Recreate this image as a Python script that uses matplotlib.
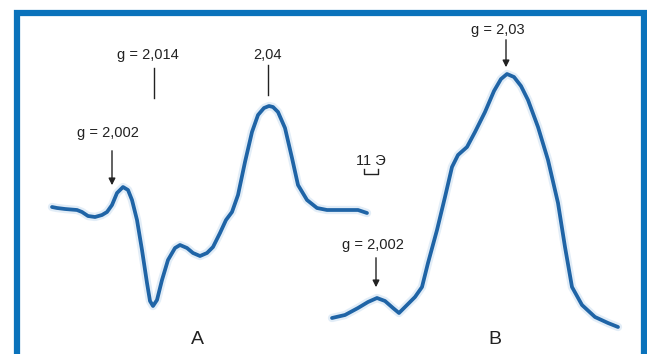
import matplotlib.pyplot as plt

plt.rcParams['font.family'] = ['Liberation Sans Narrow', 'Liberation Sans', 'DejaVu Sans']

# spectrum A: field position vs signal (page units, y grows downward)
a_field = [52, 57, 65, 77, 82, 88, 95, 102, 107, 112, 117, 123, 128, 132, 137, 142,
           147, 150, 153, 157, 162, 168, 175, 180, 187, 193, 200, 207, 213, 220,
           226, 232, 238, 245, 252, 258, 264, 269, 273, 278, 285, 292, 298, 307,
           317, 327, 347, 358, 367]
a_signal = [207, 208, 209, 210, 212, 216, 217, 215, 212, 205, 193, 187, 190, 200, 220, 250,
            283, 301, 306, 300, 280, 260, 248, 245, 248, 253, 256, 253, 247, 233,
            220, 212, 195, 162, 132, 115, 108, 106, 107, 112, 128, 158, 185, 200,
            208, 210, 210, 210, 213]

# spectrum B
b_field = [332, 345, 358, 368, 377, 385, 393, 399, 407, 415, 422, 428, 437, 445,
           452, 458, 467, 475, 485, 494, 501, 507, 514, 521, 528, 538, 548, 558, 565,
           572, 582, 595, 608, 618]
b_signal = [318, 315, 308, 302, 298, 301, 308, 313, 305, 297, 287, 263, 230, 197,
            167, 155, 147, 132, 112, 91, 79, 74, 77, 86, 100, 127, 160, 203, 247,
            287, 305, 317, 323, 327]

line_color = '#1f64a6'
frame_color = '#0a72bb'
ink = '#222222'

fig = plt.figure(figsize=(6.47, 3.54), dpi=100)
ax = fig.add_axes([0, 0, 1, 1])
ax.set_xlim(0, 647)
ax.set_ylim(354, 0)
ax.axis('off')

# frame open at the bottom
ax.plot([16.5, 16.5, 643.5, 643.5], [354, 13, 13, 354], color=frame_color, lw=4.5,
        solid_joinstyle='miter')

for f, s in [(a_field, a_signal), (b_field, b_signal)]:
    ax.plot(f, s, color='#e2edf7', lw=6, solid_capstyle='round', solid_joinstyle='round')
    ax.plot(f, s, color=line_color, lw=2.7, solid_capstyle='round', solid_joinstyle='round')

txt = dict(ha='center', va='center', fontsize=10.5, color=ink)
arrow = dict(arrowstyle='-|>', color=ink, lw=1, mutation_scale=10)

ax.text(148, 55, 'g = 2,014', **txt)
ax.plot([154, 154], [68, 98], color=ink, lw=1)
ax.text(268, 55, '2,04', **txt)
ax.plot([268, 268], [65, 95], color=ink, lw=1)

ax.text(108, 133, 'g = 2,002', **txt)
ax.annotate('', xy=(112, 188), xytext=(112, 148), arrowprops=arrow)
ax.text(373, 245, 'g = 2,002', **txt)
ax.annotate('', xy=(376, 290), xytext=(376, 255), arrowprops=arrow)
ax.text(498, 30, 'g = 2,03', **txt)
ax.annotate('', xy=(506, 70), xytext=(506, 37), arrowprops=arrow)

# field scale bar
ax.text(371, 161, '11 Э', **txt)
ax.plot([364, 364, 378, 378], [169, 174, 174, 169], color=ink, lw=1)

ax.text(197, 340, 'A', ha='center', va='center', fontsize=14, color=ink)
ax.text(495, 339, 'B', ha='center', va='center', fontsize=14, color=ink)

plt.savefig('out.png', dpi=100)
